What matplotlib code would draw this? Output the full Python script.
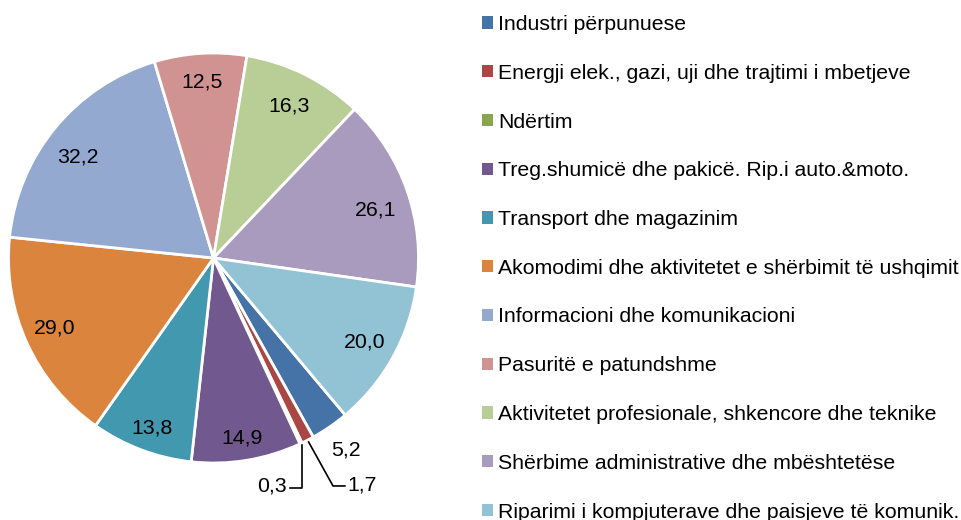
import numpy as np
import matplotlib
matplotlib.use("Agg")
import matplotlib.pyplot as plt
from matplotlib.patches import Patch

plt.rcParams['font.family'] = ['Liberation Sans', 'DejaVu Sans']

# sectors and values (share, decimal comma in labels)
sectors = [
    'Industri përpunuese',
    'Energji elek., gazi, uji dhe trajtimi i mbetjeve',
    'Ndërtim',
    'Treg.shumicë dhe pakicë. Rip.i auto.&moto.',
    'Transport dhe magazinim',
    'Akomodimi dhe aktivitetet e shërbimit të ushqimit',
    'Informacioni dhe komunikacioni',
    'Pasuritë e patundshme',
    'Aktivitetet profesionale, shkencore dhe teknike',
    'Shërbime administrative dhe mbështetëse',
    'Riparimi i kompjuterave dhe paisjeve të komunik.',
]
values = [5.2, 1.7, 0.3, 14.9, 13.8, 29.0, 32.2, 12.5, 16.3, 26.1, 20.0]
colors = ['#4572A7', '#AA4643', '#89A54E', '#71588F', '#4198AF', '#DB843D',
          '#93A9CF', '#D19392', '#B9CD96', '#A99BBD', '#92C3D4']

# label placement (radius as fraction of pie radius, angle nudge in degrees)
label_r = [1.14, 1.0, 1.0, 0.89, 0.883, 0.846, 0.826, 0.86, 0.829, 0.826, 0.844]
label_nudge = [0, 0, 0, -0.4, 0.7, -0.6, 3.0, 0, 0, -2.7, 0]

W, H = 961, 520
fig = plt.figure(figsize=(W / 100, H / 100), dpi=100)

# pie axes: centre (213.5, 258) px from top, radius 205 px
cx, cy, r = 213.5, 258, 205
ax = fig.add_axes([(cx - r) / W, (H - cy - r) / H, 2 * r / W, 2 * r / H])

wedges, _ = ax.pie(values, colors=colors, startangle=-50, counterclock=False,
                   radius=1, wedgeprops=dict(edgecolor='white', linewidth=2))
ax.set_xlim(-1, 1)
ax.set_ylim(-1, 1)
ax.set_aspect('equal')
ax.axis('off')

fs = 15.3


def lab(v):
    return '{:.1f}'.format(v).replace('.', ',')


for w, v, lr, dn in zip(wedges, values, label_r, label_nudge):
    mid = np.deg2rad((w.theta1 + w.theta2) / 2)
    ux, uy = np.cos(mid), np.sin(mid)
    if v > 3:
        a = mid + np.deg2rad(dn)
        ax.text(lr * np.cos(a), lr * np.sin(a), lab(v), fontsize=fs,
                ha='center', va='center')
    elif v > 1:
        # leader line down-right
        x0, y0 = 1.01 * ux, 1.01 * uy
        ax.plot([x0, 0.583, 0.641], [y0, -1.112, -1.112], color='black',
                lw=1.2, clip_on=False)
        ax.text(0.655, -1.105, lab(v), fontsize=fs, ha='left', va='center')
    else:
        # leader line straight down then left
        x0, y0 = 1.01 * ux, 1.01 * uy
        ax.plot([x0, x0, x0 - 0.058], [y0, -1.122, -1.122], color='black',
                lw=1.2, clip_on=False)
        ax.text(x0 - 0.072, -1.11, lab(v), fontsize=fs, ha='right', va='center')

handles = [Patch(facecolor=c, edgecolor='none') for c in colors]
fig.legend(handles, sectors, loc='upper left', bbox_to_anchor=(481.5 / W, 1 - 15 / H),
           frameon=False, fontsize=fs, handlelength=0.52, handleheight=0.52,
           handletextpad=0.25, labelspacing=1.40, borderaxespad=0, borderpad=0)

fig.savefig('out.png', dpi=100)
